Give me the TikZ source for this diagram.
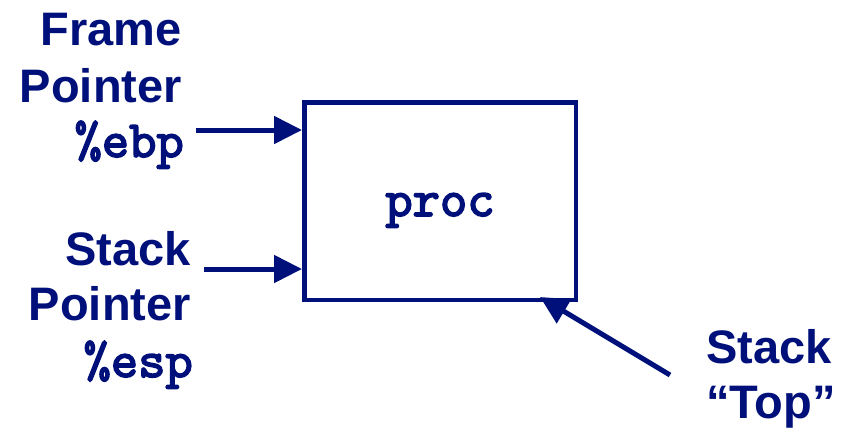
\documentclass[tikz,border=0pt]{standalone}
\usepackage{fontspec}
\setmainfont{Liberation Sans}
\newfontfamily\regfont{lmmono10-regular.otf}[FakeBold=3]
\usepackage{tikz}
\usetikzlibrary{arrows.meta}
\usetikzlibrary{positioning}
\definecolor{navy}{RGB}{0,16,122}

\begin{document}
\begin{tikzpicture}[
x=1pt, y=-1pt,
MyLabels/.style={navy,font=\fontsize{47}{56}\selectfont\bfseries,inner sep=0pt},
MyRegs/.style={navy,font=\fontsize{52}{56}\selectfont\regfont,inner sep=0pt},
Pointers/.style={draw=navy,line width=5pt,-{Triangle[length=28pt,width=27pt]}},
ProcBox/.style={draw=navy,line width=4.5pt,inner sep=0pt,minimum width=271.5pt,minimum height=197.5pt}
]

\useasboundingbox (0,0) rectangle (856,429);

% the frame of proc
\node[ProcBox] (proc) at (440,201) {};
\node[MyRegs, anchor=base] (proctext) at (440,216) {proc};

% frame pointer
\node[MyLabels, anchor=base east] (frame) at (182,45) {Frame};
\node[MyLabels, anchor=base east] (framept) at (182,102) {Pointer};
\node[MyRegs, anchor=base east] (ebp) at (184,157) {\%ebp};

% stack pointer
\node[MyLabels, anchor=base east] (stack) at (191,265) {Stack};
\node[MyLabels, anchor=base east] (stackpt) at (191,320) {Pointer};
\node[MyRegs, anchor=base east] (esp) at (193,377) {\%esp};

% stack top
\node[MyLabels, anchor=base west] (top) at (706,363) {Stack};
\node[MyLabels, anchor=base west] (topq) at (706,418) {“Top”};

\coordinate (ebpfrom) at (196,130);
\coordinate (espfrom) at (204,269);
\coordinate (topfrom) at (670,375);

\draw[Pointers] (ebpfrom) -- (ebpfrom -| proc.west);
\draw[Pointers] (espfrom) -- (espfrom -| proc.west);
\draw[Pointers] (topfrom) -- ([xshift=100pt,yshift=5pt]proc.south);

\end{tikzpicture}
\end{document}
